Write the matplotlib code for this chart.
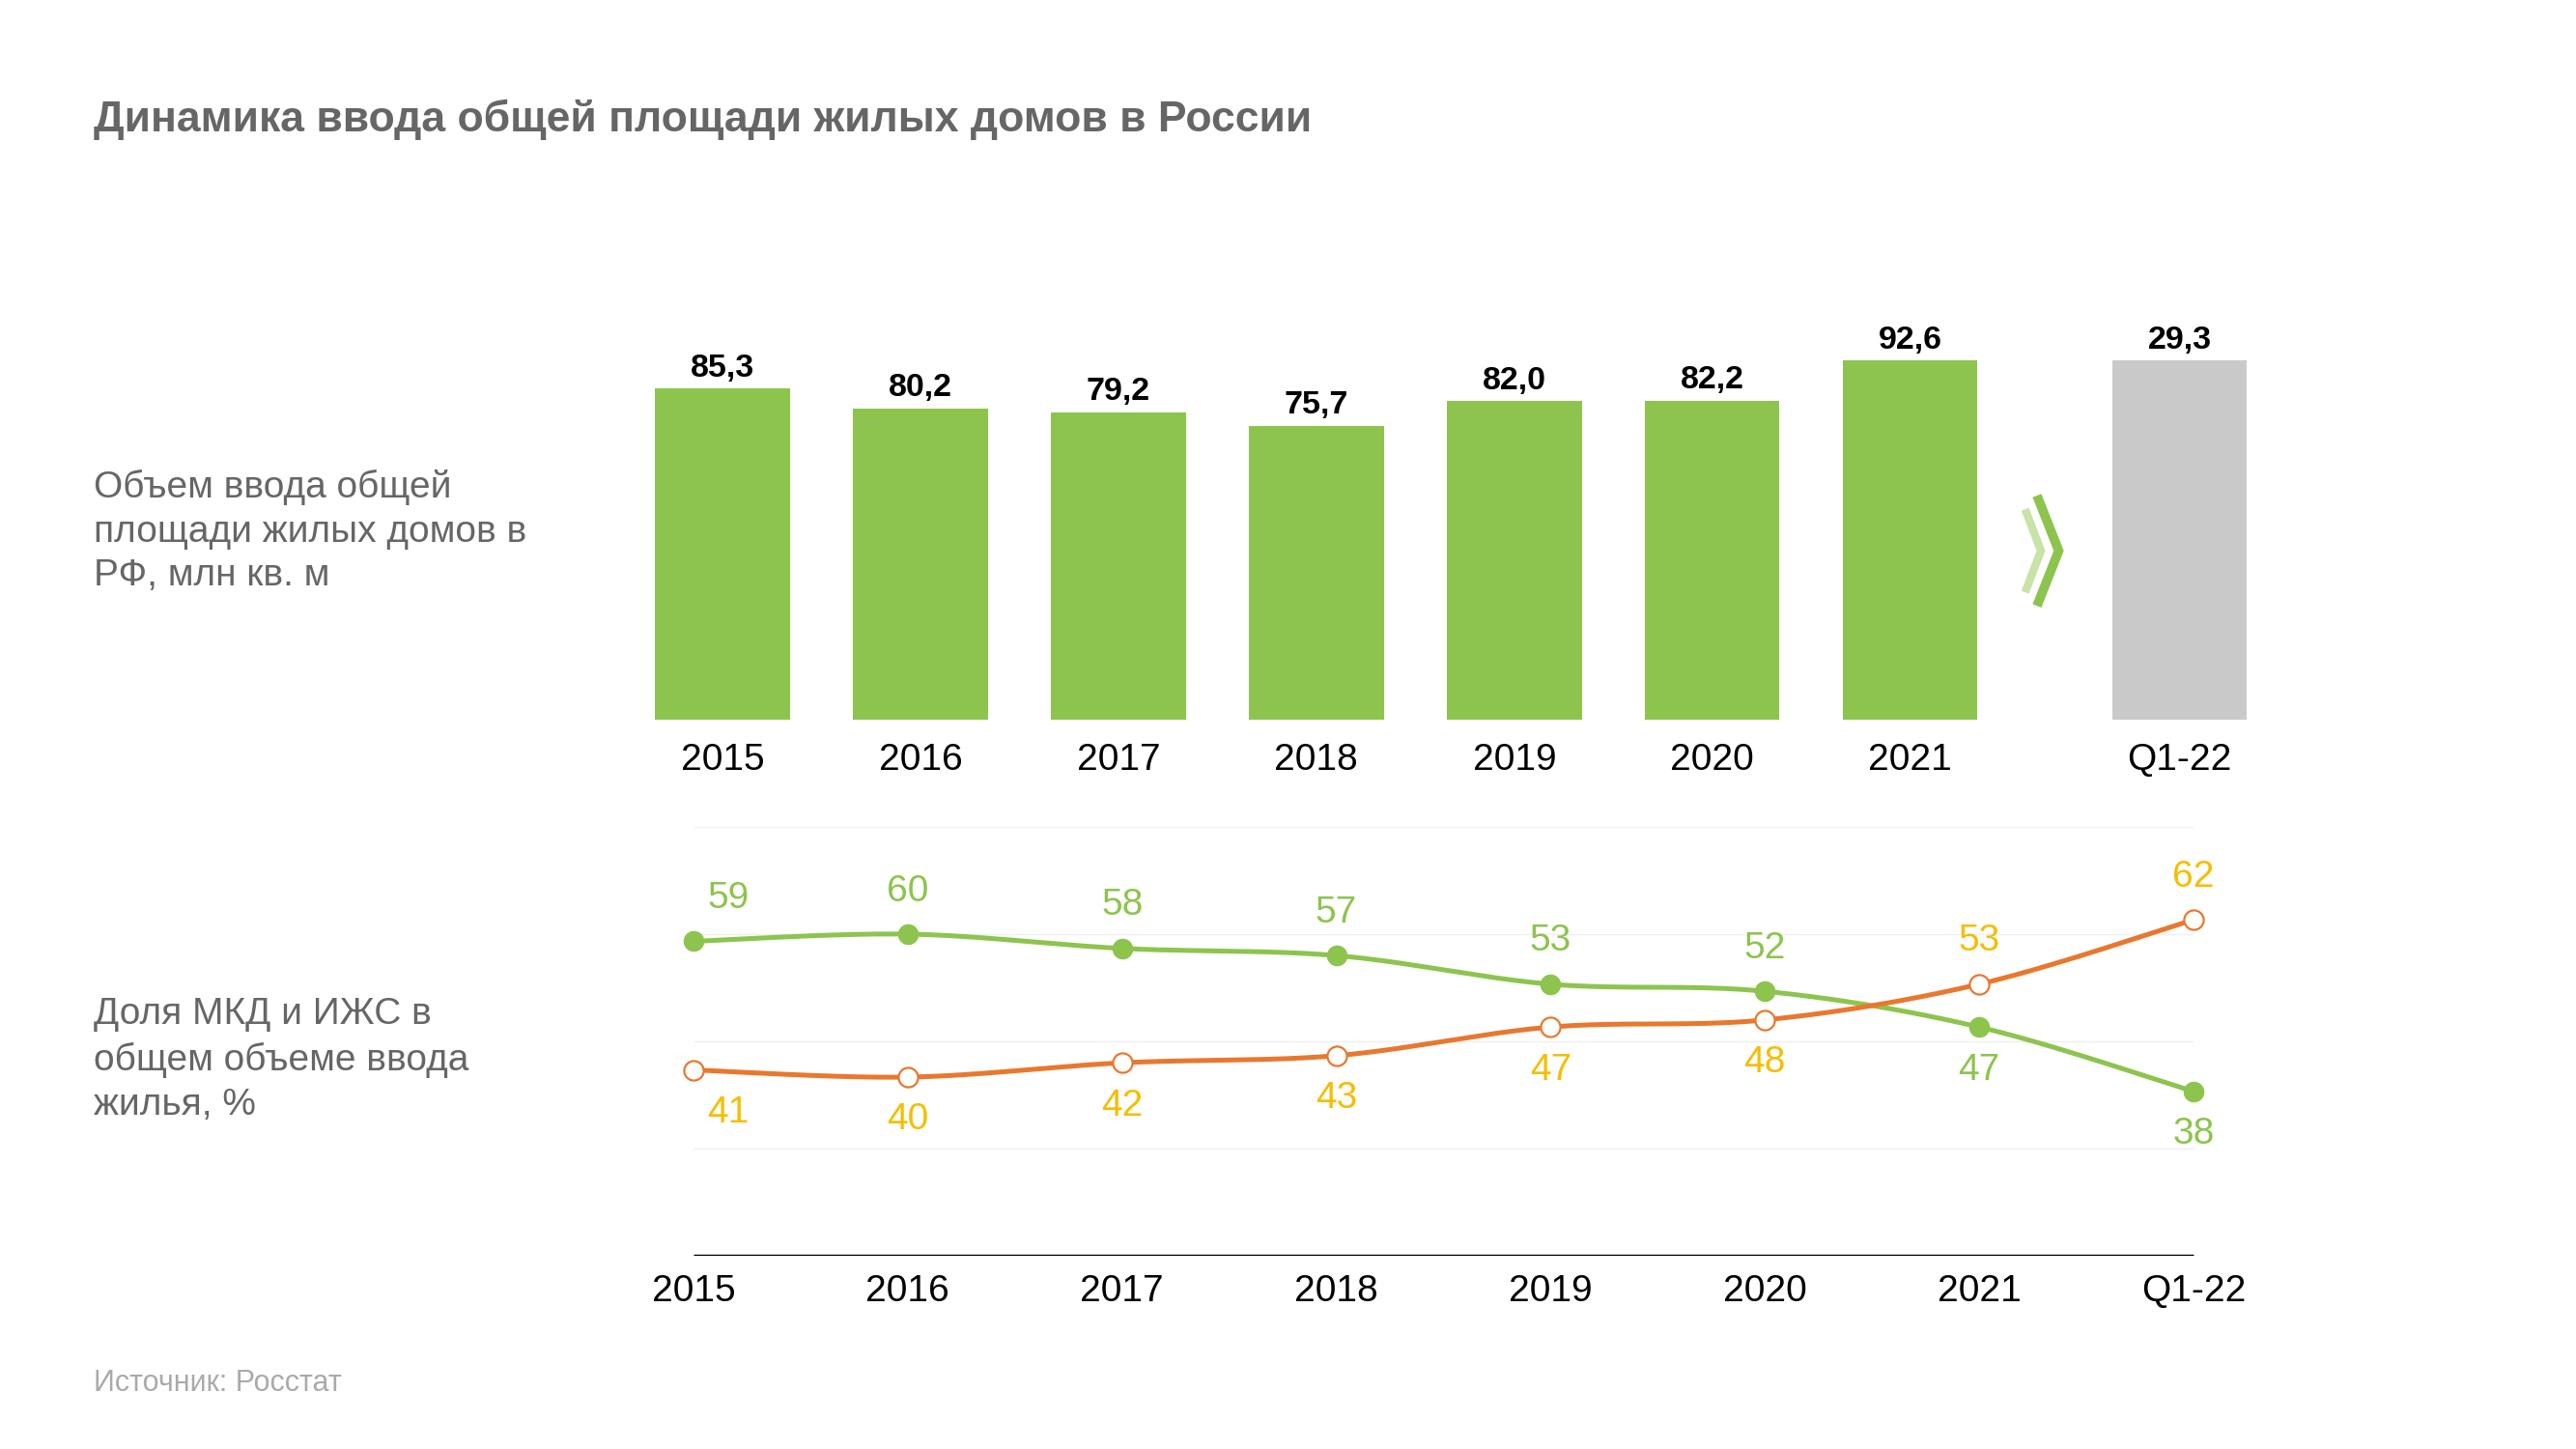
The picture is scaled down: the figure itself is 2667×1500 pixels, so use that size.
import numpy as np
import matplotlib.pyplot as plt
from matplotlib.lines import Line2D

plt.rcParams['font.family'] = ['Liberation Sans', 'DejaVu Sans']

# data
years = ['2015', '2016', '2017', '2018', '2019', '2020', '2021']
volume = [85.3, 80.2, 79.2, 75.7, 82.0, 82.2, 92.6]
q_label = 'Q1-22'
q_volume = 29.3

line_labels = ['2015', '2016', '2017', '2018', '2019', '2020', '2021', 'Q1-22']
share_mkd = [59, 60, 58, 57, 53, 52, 47, 38]
share_izhs = [41, 40, 42, 43, 47, 48, 53, 62]

green = '#8DC44E'
gray_bar = '#C9C9C9'
orange = '#E8782E'
gold = '#F5BE00'
text_gray = '#666666'


def fmt(v):
    return f'{v:.1f}'.replace('.', ',')


def smooth(x, y, n=40):
    pts = np.column_stack([x, y]).astype(float)
    P = np.vstack([pts[0], pts, pts[-1]])
    t = np.linspace(0, 1, n)[:, None]
    out = []
    for i in range(1, len(P) - 2):
        p0, p1, p2, p3 = P[i - 1], P[i], P[i + 1], P[i + 2]
        seg = 0.5 * (2 * p1 + (-p0 + p2) * t + (2 * p0 - 5 * p1 + 4 * p2 - p3) * t ** 2
                     + (-p0 + 3 * p1 - 3 * p2 + p3) * t ** 3)
        out.append(seg)
    s = np.vstack(out)
    return s[:, 0], s[:, 1]


fig = plt.figure(figsize=(26.67, 15), dpi=100)

fig.text(97 / 2667, 1 - 124 / 1500, 'Динамика ввода общей площади жилых домов в России',
         fontsize=32, fontweight='bold', color=text_gray, va='center', ha='left')
fig.text(97 / 2667, 1 - 550 / 1500, 'Объем ввода общей\nплощади жилых домов в\nРФ, млн кв. м',
         fontsize=28, color=text_gray, va='center', ha='left', linespacing=1.35)
fig.text(97 / 2667, 1 - 1097 / 1500, 'Доля МКД и ИЖС в\nобщем объеме ввода\nжилья, %',
         fontsize=28, color=text_gray, va='center', ha='left', linespacing=1.35)
fig.text(97 / 2667, 1 - 1432 / 1500, 'Источник: Росстат',
         fontsize=22, color='#AAAAAA', va='center', ha='left')

# ---- bar chart
ax1 = fig.add_axes([645.5 / 2667, 1 - 745 / 1500, (2359 - 645.5) / 2667, 402 / 1500])
xb = np.arange(len(years))
x_q = len(years) + 0.36
ax1.bar(xb, volume, width=0.68, color=green)
# quarter bar is drawn at full height of the largest year
ax1.bar([x_q], [max(volume)], width=0.68, color=gray_bar)
for x, v in zip(xb, volume):
    ax1.text(x, v + 1.3, fmt(v), ha='center', va='bottom', fontsize=24.5, fontweight='bold')
ax1.text(x_q, max(volume) + 1.3, fmt(q_volume), ha='center', va='bottom', fontsize=24.5,
         fontweight='bold')
ax1.set_xticks(list(xb) + [x_q])
ax1.set_xticklabels(years + [q_label], fontsize=28)
ax1.tick_params(axis='x', length=0, pad=17)
ax1.set_yticks([])
ax1.set_xlim(-0.5, 7.86)
ax1.set_ylim(0, 100)
for s in ax1.spines.values():
    s.set_visible(False)

# chevrons between 2021 and Q1-22
xm = (xb[-1] + x_q) / 2
ax1.add_line(Line2D([xm - 0.10, xm - 0.02, xm - 0.10], [54.2, 43.5, 32.8],
                    color='#C8E2A8', lw=6, solid_joinstyle='miter', solid_capstyle='butt'))
ax1.add_line(Line2D([xm - 0.04, xm + 0.07, xm - 0.04], [57.7, 43.5, 29.3],
                    color=green, lw=7, solid_joinstyle='miter', solid_capstyle='butt'))

# ---- line chart
ax2 = fig.add_axes([673.6 / 2667, 1 - 1300 / 1500, (2315.4 - 673.6) / 2667, 444 / 1500])
xl = np.arange(len(line_labels))
ax2.set_xlim(-0.2, len(line_labels) - 0.8)
ax2.set_ylim(15, 75)
for g in [30, 45, 60, 75]:
    ax2.hlines(g, xl[0], xl[-1], color='#EFEFEF', lw=1, zorder=0)
ax2.hlines(15, xl[0], xl[-1], color='black', lw=2.5, zorder=1)

sx, sy = smooth(xl, share_mkd)
ax2.plot(sx, sy, color=green, lw=3.6, zorder=2)
ax2.plot(xl, share_mkd, 'o', color=green, ms=14.5, zorder=3, clip_on=False)
sx, sy = smooth(xl, share_izhs)
ax2.plot(sx, sy, color=orange, lw=3.6, zorder=2)
ax2.plot(xl, share_izhs, 'o', mfc='white', mec=orange, mew=1.6, ms=14.5, zorder=3, clip_on=False)

for i, (g, o) in enumerate(zip(share_mkd, share_izhs)):
    dx = 26 if i == 0 else 0  # first pair sits right of the point
    g_up = g > o
    ax2.annotate(str(g), (xl[i], g), xytext=(dx, 32 if g_up else -32),
                 textcoords='offset points', ha='center', va='center', fontsize=28, color=green)
    ax2.annotate(str(o), (xl[i], o), xytext=(dx, -32 if g_up else 32),
                 textcoords='offset points', ha='center', va='center', fontsize=28, color=gold)

ax2.set_xticks(xl)
ax2.set_xticklabels(line_labels, fontsize=28)
ax2.tick_params(axis='x', length=0, pad=14)
ax2.set_yticks([])
for s in ax2.spines.values():
    s.set_visible(False)

fig.savefig('out.png', dpi=100)
